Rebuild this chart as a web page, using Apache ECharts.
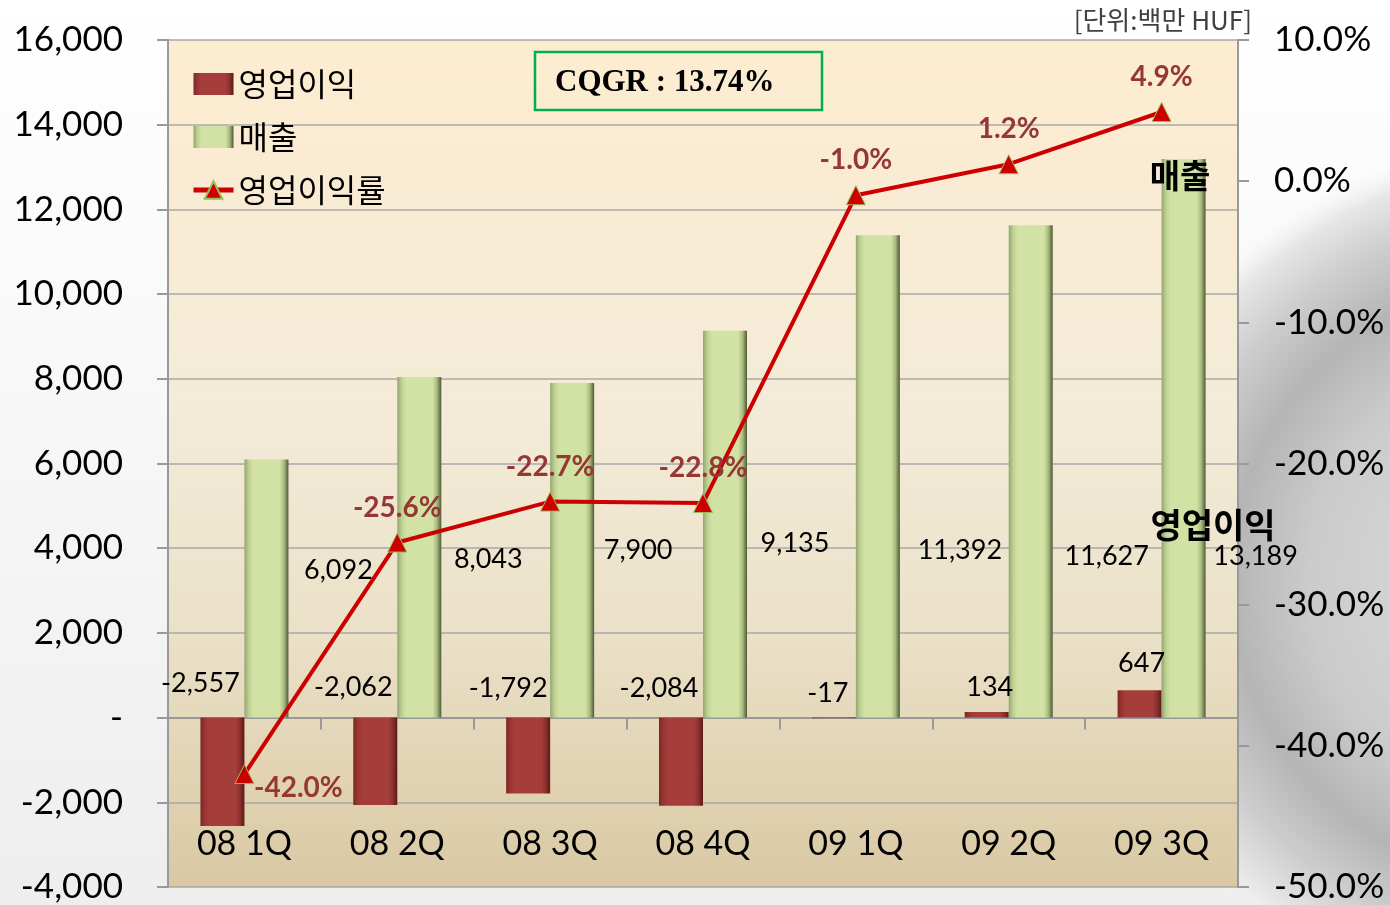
<!DOCTYPE html>
<html>
<head>
<meta charset="utf-8">
<script src="https://cdn.jsdelivr.net/npm/echarts@6/dist/echarts.min.js"></script>
<style>html,body{margin:0;padding:0;background:#fff;}#c{width:1390px;height:905px;}</style>
</head>
<body>
<div id="c"></div>
<script>
const categories = ['08 1Q','08 2Q','08 3Q','08 4Q','09 1Q','09 2Q','09 3Q'];
const opProfit = [-2557,-2062,-1792,-2084,-17,134,647];
const sales = [6092,8043,7900,9135,11392,11627,13189];
const margin = [-42.0,-25.6,-22.7,-22.8,-1.0,1.2,4.9];
const seriesNames = ['영업이익','매출','영업이익률'];
const unitText = '[단위:백만 HUF]';
const cqgrText = 'CQGR : 13.74%';

// label placement (pixels), kept apart from the data
const salesLabelOffsets = [[72,-147],[69,-158],[66,-167],[70,-174],[82,-167],[76,-161],[72,-161]];
const profitLabelOffsets = [[-22,-34],[-22,-30],[-20,-29],[-22,-29],[-6,-24],[3,-25],[2,-27]];
const marginLabelOffsets = [[54,24],[0,-25],[0,-25],[0,-25],[0,-25],[0,-25],[0,-25]];

const NUM = 'Lato, "Noto Sans CJK KR", sans-serif';
const KR = '"Noto Sans CJK KR", sans-serif';
const fmt = v => v.toLocaleString('en-US');

const greenGrad = {type:'linear',x:0,y:0,x2:1,y2:0,colorStops:[
  {offset:0,color:'#93a56f'},{offset:0.1,color:'#bfd093'},{offset:0.2,color:'#d2e2a4'},
  {offset:0.8,color:'#d2e2a4'},{offset:0.9,color:'#a9ba7e'},{offset:1,color:'#4d5937'}]};
const redGrad = {type:'linear',x:0,y:0,x2:1,y2:0,colorStops:[
  {offset:0,color:'#7b2725'},{offset:0.1,color:'#9a3533'},{offset:0.2,color:'#a53d3b'},
  {offset:0.8,color:'#a53d3b'},{offset:0.9,color:'#8a302e'},{offset:1,color:'#5a1917'}]};

const chart = echarts.init(document.getElementById('c'), null, {renderer:'canvas'});
chart.setOption({
  backgroundColor: {type:'linear',x:0,y:0,x2:0,y2:1,colorStops:[{offset:0,color:'#ffffff'},{offset:1,color:'#eeeeee'}]},
  animation:false,
  graphic:[
    {type:'circle', z:-10, silent:true, shape:{cx:1530,cy:580,r:440},
     style:{fill:{type:'radial',x:0.5,y:0.5,r:0.5,colorStops:[
       {offset:0,color:'#e0e0e0'},{offset:0.5,color:'#cbcbcb'},{offset:0.68,color:'#b5b5b5'},
       {offset:0.82,color:'#cdcdcd'},{offset:0.93,color:'#e6e6e6'},{offset:1,color:'rgba(245,245,245,0)'}]}}},
    {type:'text', z:10, style:{x:1252,y:20,text:unitText,align:'right',verticalAlign:'middle',
      font:'26px "Noto Sans CJK KR", sans-serif',fill:'#404040'}},
    {type:'rect', z:10, shape:{x:535,y:52,width:287,height:58},
      style:{fill:'rgba(0,0,0,0)',stroke:'#00B050',lineWidth:2.5}},
    {type:'text', z:11, style:{x:555,y:83,text:cqgrText,align:'left',verticalAlign:'middle',
      font:'bold 31px "Liberation Serif", "DejaVu Serif", serif',fill:'#000'}},
    {type:'text', z:11, style:{x:1180,y:175,text:seriesNames[1],align:'center',verticalAlign:'middle',
      font:'bold 33px "Noto Sans CJK KR", sans-serif',fill:'#000'}},
    {type:'text', z:11, style:{x:1213,y:525,text:seriesNames[0],align:'center',verticalAlign:'middle',
      font:'bold 34px "Noto Sans CJK KR", sans-serif',fill:'#000'}}
  ],
  grid:{left:168,right:152,top:40,bottom:18,show:true,borderWidth:0,
    backgroundColor:{type:'linear',x:0,y:0,x2:0,y2:1,colorStops:[
      {offset:0,color:'#fdecd0'},{offset:0.45,color:'#f3ebd8'},{offset:0.7,color:'#ebe1c8'},{offset:1,color:'#d9c8a3'}]}},
  legend:{
    data:[{name:seriesNames[0],icon:'rect'},{name:seriesNames[1],icon:'rect'},
          {name:seriesNames[2],lineStyle:{width:5,color:'#CC0000'}}],
    orient:'vertical', left:186, top:62, itemWidth:40, itemHeight:22, itemGap:19,
    textStyle:{fontSize:32,fontFamily:KR,color:'#000',lineHeight:34}
  },
  xAxis:[
    {type:'category',data:categories,position:'bottom',
     axisLine:{show:false,onZero:false},axisTick:{show:false},splitLine:{show:false},
     axisLabel:{inside:true,margin:26,fontSize:34,fontFamily:NUM,color:'#000'}},
    {type:'category',data:categories,position:'bottom',
     axisLine:{show:true,onZero:true,onZeroAxisIndex:0,lineStyle:{color:'#999',width:2}},
     axisTick:{show:true,length:12,inside:false,lineStyle:{color:'#999',width:2}},
     axisLabel:{show:false},splitLine:{show:false}}
  ],
  yAxis:[
    {type:'value',min:-4000,max:16000,interval:2000,position:'left',
     axisLine:{show:true,lineStyle:{color:'#999',width:2}},
     axisTick:{show:true,length:11,lineStyle:{color:'#999',width:2}},
     splitLine:{show:true,lineStyle:{color:'#a8a8a8',width:1.5}},
     axisLabel:{margin:45,fontSize:35,fontFamily:NUM,color:'#000',formatter:v=>v===0?'-':fmt(v)}},
    {type:'value',min:-50,max:10,interval:10,position:'right',
     axisLine:{show:true,lineStyle:{color:'#999',width:2}},
     axisTick:{show:true,length:11,lineStyle:{color:'#999',width:2}},
     splitLine:{show:false},
     axisLabel:{margin:36,fontSize:35,fontFamily:NUM,color:'#000',formatter:v=>v.toFixed(1)+'%'}}
  ],
  series:[
    {name:seriesNames[0],type:'bar',xAxisIndex:0,yAxisIndex:0,barWidth:44,barGap:'0%',
     itemStyle:{color:redGrad},
     label:{show:true,position:'top',distance:0,align:'center',verticalAlign:'middle',
       fontSize:27,fontFamily:NUM,color:'#000',formatter:p=>fmt(p.value)},
     data:opProfit.map((v,i)=>({value:v,label:{offset:profitLabelOffsets[i]}}))},
    {name:seriesNames[1],type:'bar',xAxisIndex:0,yAxisIndex:0,barWidth:44,barGap:'0%',
     itemStyle:{color:greenGrad},
     label:{show:true,position:'insideBottom',distance:0,align:'center',verticalAlign:'middle',
       fontSize:27,fontFamily:NUM,color:'#000',formatter:p=>fmt(p.value)},
     data:sales.map((v,i)=>({value:v,label:{offset:salesLabelOffsets[i]}}))},
    {name:seriesNames[2],type:'line',xAxisIndex:0,yAxisIndex:1,z:5,
     symbol:'triangle',symbolSize:19,
     lineStyle:{color:'#CC0000',width:4},
     itemStyle:{color:'#CC0000',borderColor:'#9BBB59',borderWidth:1},
     label:{show:true,position:'top',distance:0,align:'center',verticalAlign:'middle',
       fontSize:28,fontWeight:'bold',fontFamily:NUM,color:'#953735',formatter:p=>p.value.toFixed(1)+'%'},
     data:margin.map((v,i)=>({value:v,label:{offset:marginLabelOffsets[i]}}))}
  ]
});
</script>
</body>
</html>
